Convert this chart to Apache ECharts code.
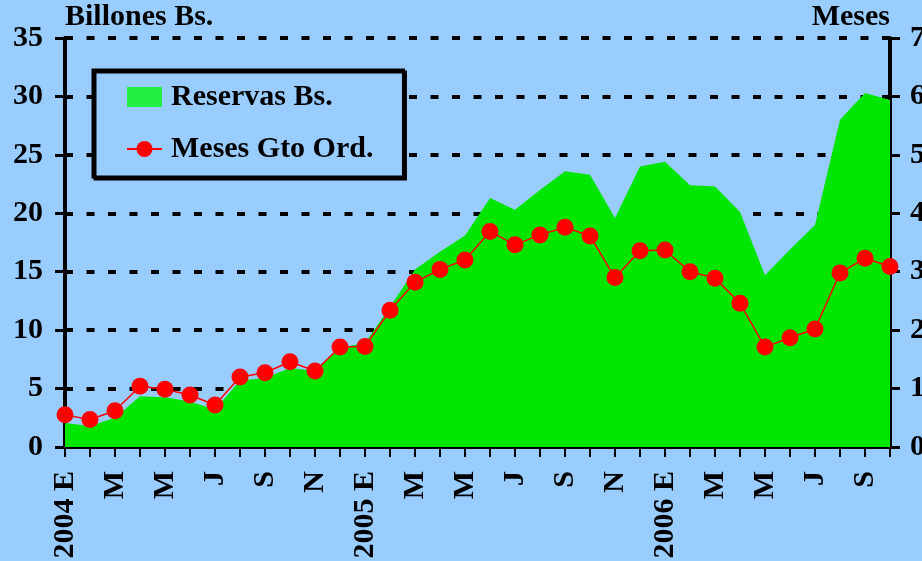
<!DOCTYPE html>
<html>
<head>
<meta charset="utf-8">
<script src="https://cdn.jsdelivr.net/npm/echarts@6/dist/echarts.min.js"></script>
<style>
html,body{margin:0;padding:0;background:#99ccff;}
#chart{width:922px;height:561px;}
</style>
</head>
<body>
<div id="chart"></div>
<script>
// Categories: months Jan 2004 .. Oct 2006 (labels shown every 2nd month)
const categories = [
  '2004 E','F','M','A','M','J','J','A','S','O','N','D',
  '2005 E','F','M','A','M','J','J','A','S','O','N','D',
  '2006 E','F','M','A','M','J','J','A','S','O'
];
// Reservas Bs. (billones Bs., left axis)
const reservas = [
  2.05, 1.8, 2.5, 4.35, 4.25, 3.9, 3.2, 5.7, 5.9, 6.75, 6.5, 8.5,
  8.9, 12.0, 15.2, 16.7, 18.1, 21.3, 20.3, 22.0, 23.6, 23.3, 19.6, 24.0,
  24.4, 22.4, 22.3, 20.1, 14.7, 16.9, 19.0, 28.0, 30.3, 29.7
];
// Meses Gto Ord. (months, right axis)
const meses = [
  0.55, 0.47, 0.62, 1.04, 0.99, 0.89, 0.72, 1.20, 1.27, 1.46, 1.30, 1.71,
  1.72, 2.34, 2.82, 3.04, 3.20, 3.69, 3.46, 3.63, 3.76, 3.61, 2.90, 3.36,
  3.37, 3.00, 2.89, 2.46, 1.71, 1.87, 2.02, 2.98, 3.23, 3.09
];
const leftTicks = {min: 0, max: 35, interval: 5};
const rightTicks = {min: 0, max: 7, interval: 1};

const serif = '"Liberation Serif", "Times New Roman", serif';
const chart = echarts.init(document.getElementById('chart'));
chart.setOption({
  backgroundColor: '#99ccff',
  animation: false,
  textStyle: {fontFamily: serif, fontWeight: 'bold', color: '#000'},
  grid: {left: 65, right: 32, top: 38, bottom: 114, containLabel: false, outerBoundsMode: 'none'},
  legend: {
    orient: 'vertical',
    left: 93, top: 70,
    padding: [12, 30, 13, 33],
    itemGap: 22,
    itemWidth: 35, itemHeight: 20,
    backgroundColor: '#99ccff',
    borderColor: '#000', borderWidth: 3,
    shadowColor: '#000', shadowOffsetX: 2, shadowOffsetY: 2, shadowBlur: 0,
    textStyle: {fontFamily: serif, fontWeight: 'bold', fontSize: 30, color: '#000', padding: [0,0,0,4]},
    data: [
      {name: 'Reservas Bs.', icon: 'rect', itemStyle: {color: '#22ee44'}},
      {name: 'Meses Gto Ord.'}
    ]
  },
  xAxis: [{
    type: 'category',
    data: categories,
    boundaryGap: false,
    axisLine: {lineStyle: {color: '#000', width: 4}},
    axisTick: {show: true, interval: 0, length: 10, lineStyle: {color: '#000', width: 2}},
    axisLabel: {interval: 1, rotate: 90, margin: 24, fontFamily: serif, fontWeight: 'bold', fontSize: 30, color: '#000'},
    splitLine: {show: false}
  }, {
    type: 'category',
    data: categories,
    position: 'top',
    boundaryGap: false,
    axisLine: {lineStyle: {color: '#000', width: 2}},
    axisTick: {show: false},
    axisLabel: {show: false}
  }],
  yAxis: [{
    type: 'value',
    min: leftTicks.min, max: leftTicks.max, interval: leftTicks.interval,
    name: 'Billones Bs.',
    nameLocation: 'end',
    nameGap: 6,
    nameTextStyle: {align: 'left', fontFamily: serif, fontWeight: 'bold', fontSize: 30, color: '#000'},
    axisLine: {show: true, lineStyle: {color: '#000', width: 4}},
    axisTick: {show: true, length: 10, lineStyle: {color: '#000', width: 3}},
    axisLabel: {margin: 22, fontFamily: serif, fontWeight: 'bold', fontSize: 30, color: '#000'},
    splitLine: {show: true, lineStyle: {color: '#000', width: 4, type: [8, 13.5]}}
  }, {
    type: 'value',
    position: 'right',
    min: rightTicks.min, max: rightTicks.max, interval: rightTicks.interval,
    name: 'Meses',
    nameLocation: 'end',
    nameGap: 6,
    nameTextStyle: {align: 'right', fontFamily: serif, fontWeight: 'bold', fontSize: 30, color: '#000'},
    axisLine: {show: true, lineStyle: {color: '#000', width: 4}},
    axisTick: {show: true, length: 10, lineStyle: {color: '#000', width: 3}},
    axisLabel: {margin: 20, fontFamily: serif, fontWeight: 'bold', fontSize: 30, color: '#000'},
    splitLine: {show: false}
  }],
  series: [{
    name: 'Reservas Bs.',
    type: 'line',
    yAxisIndex: 0,
    data: reservas,
    symbol: 'none',
    lineStyle: {width: 0, color: '#00e600'},
    itemStyle: {color: '#22ee44'},
    areaStyle: {color: '#00e600', opacity: 1},
    z: 2
  }, {
    name: 'Meses Gto Ord.',
    type: 'line',
    yAxisIndex: 1,
    data: meses,
    symbol: 'circle',
    symbolSize: 17,
    showAllSymbol: true,
    lineStyle: {width: 1.5, color: '#ff0000'},
    itemStyle: {color: '#ff0000'},
    z: 3
  }]
});
</script>
</body>
</html>
